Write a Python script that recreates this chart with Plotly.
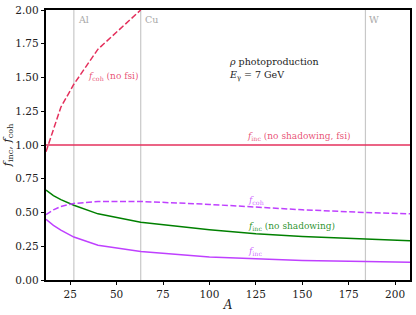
import plotly.graph_objects as go

# Data
A_nofsi = [12, 20, 27, 40, 63]
fcoh_nofsi = [0.95, 1.28, 1.45, 1.71, 2.0]

A_vals = [12, 16, 20, 27, 40, 63, 100, 125, 150, 184, 208]
finc_noshad = [0.666, 0.625, 0.595, 0.554, 0.49, 0.428, 0.373, 0.342, 0.323, 0.302, 0.29]
finc = [0.45, 0.405, 0.37, 0.318, 0.258, 0.212, 0.17, 0.155, 0.145, 0.137, 0.132]
fcoh = [0.485, 0.52, 0.545, 0.567, 0.582, 0.582, 0.56, 0.538, 0.52, 0.5, 0.49]

finc_fsi_A = [12, 208]
finc_fsi = [1.0, 1.0]

nuclei = ["Al", "Cu", "W"]
nuclei_A = [27, 63, 184]

xticks = [25, 50, 75, 100, 125, 150, 175, 200]
yticks = [0.0, 0.25, 0.5, 0.75, 1.0, 1.25, 1.5, 1.75, 2.0]

RED = "#e4305c"
RED_T = "rgba(228,48,92,0.85)"
PURP = "#bf40ff"
PURP_T = "rgba(191,64,255,0.8)"
GREEN = "#008000"
GREEN_T = "rgba(0,128,0,0.85)"
FONT = "DejaVu Serif"

fig = go.Figure()

for a in nuclei_A:
    fig.add_shape(type="line", xref="x", yref="paper", x0=a, x1=a, y0=0, y1=1,
                  line=dict(color="#c8c8c8", width=1.2), layer="below")

fig.add_trace(go.Scatter(x=finc_fsi_A, y=finc_fsi, mode="lines",
                         line=dict(color=RED, width=1.5)))
fig.add_trace(go.Scatter(x=A_nofsi, y=fcoh_nofsi, mode="lines",
                         line=dict(color=RED, width=1.5, dash="6px,2.5px")))
fig.add_trace(go.Scatter(x=A_vals, y=finc_noshad, mode="lines",
                         line=dict(color=GREEN, width=1.5)))
fig.add_trace(go.Scatter(x=A_vals, y=fcoh, mode="lines",
                         line=dict(color=PURP, width=1.5, dash="6px,2.5px")))
fig.add_trace(go.Scatter(x=A_vals, y=finc, mode="lines",
                         line=dict(color=PURP, width=1.5)))

ann = []
for name, a in zip(nuclei, nuclei_A):
    ann.append(dict(x=a, y=1.93, xref="x", yref="y", text=name, showarrow=False,
                    xanchor="left", xshift=2, font=dict(family=FONT, size=9.5, color="#a8a8a8")))

def lab(x, y, text, color, size=9):
    ann.append(dict(x=x, y=y, xref="x", yref="y", text=text, showarrow=False,
                    xanchor="left", yanchor="middle", font=dict(family=FONT, size=size, color=color)))

lab(33.3, 1.51, "<i>f</i><sub>coh</sub> (no fsi)", RED_T)
lab(119.4, 1.065, "<i>f</i><sub>inc</sub> (no shadowing, fsi)", RED_T)
lab(119.6, 0.59, "<i>f</i><sub>coh</sub>", PURP_T)
lab(119.6, 0.40, "<i>f</i><sub>inc</sub> (no shadowing)", GREEN_T)
lab(119.6, 0.21, "<i>f</i><sub>inc</sub>", PURP_T)
lab(109.6, 1.615, "<i>ρ</i> photoproduction", "#222222", 9.5)
lab(109.6, 1.515, "<i>E</i><sub>γ</sub> = 7 GeV", "#222222", 9.5)

fig.update_layout(
    width=416, height=315,
    margin=dict(l=45, r=4, t=7, b=35),
    paper_bgcolor="white", plot_bgcolor="white",
    showlegend=False,
    font=dict(family=FONT, size=10.5, color="#222222"),
    annotations=ann,
    xaxis=dict(range=[12, 208], tickvals=xticks, ticktext=[str(v) for v in xticks],
               showgrid=False, zeroline=False, showline=True, linecolor="black", linewidth=1.5,
               mirror=True, ticks="outside", ticklen=3.5, tickwidth=1, tickcolor="black",
               title=dict(text="<i>A</i>", standoff=2, font=dict(size=12))),
    yaxis=dict(range=[0, 2.0], tickvals=yticks, ticktext=[f"{v:.2f}" for v in yticks],
               showgrid=False, zeroline=False, showline=True, linecolor="black", linewidth=1.5,
               mirror=True, ticks="outside", ticklen=3.5, tickwidth=1, tickcolor="black",
               title=dict(text="<i>f</i><sub>inc</sub>, <i>f</i><sub>coh</sub>", standoff=3,
                          font=dict(size=11.5))),
)

fig.write_html("out.html", config={"displayModeBar": False},
               post_script="document.body.style.margin='0';document.body.style.overflow='hidden';")
